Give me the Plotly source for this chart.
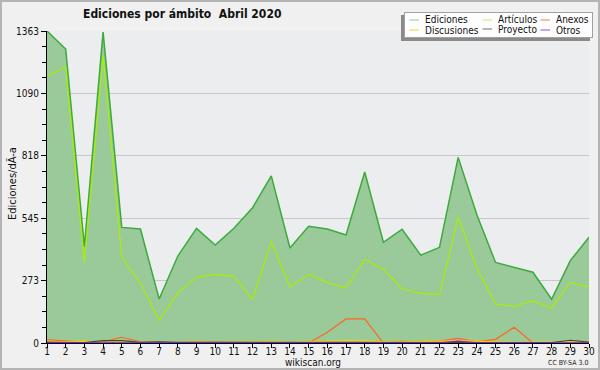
import plotly.graph_objects as go

days = list(range(1, 31))
ediciones = [1363, 1284, 421, 1358, 505, 498, 192, 380, 501, 428, 501, 591, 730, 415, 510,
             498, 472, 747, 440, 497, 384, 418, 811, 560, 352, 332, 309, 191, 360, 462]
articulos = [1166, 1207, 352, 1255, 374, 261, 99, 219, 287, 300, 291, 189, 444, 245, 300,
             265, 240, 366, 322, 236, 217, 211, 549, 326, 170, 160, 185, 152, 265, 245]
anexos = [15, 10, 3, 5, 25, 5, 3, 2, 5, 5, 3, 3, 2, 0, 0,
          47, 105, 105, 0, 7, 5, 8, 20, 5, 16, 69, 0, 0, 2, 3]
discusiones = [8, 5, 8, 3, 5, 3, 2, 3, 5, 3, 5, 5, 6, 3, 5,
               8, 12, 10, 5, 5, 5, 8, 10, 6, 5, 3, 3, 3, 5, 5]
proyecto = [3, 2, 2, 10, 10, 3, 5, 3, 3, 3, 2, 2, 2, 2, 2,
            2, 3, 3, 2, 2, 2, 2, 5, 2, 2, 2, 2, 2, 12, 4]
otros = [3, 1, 1, 1, 1, 1, 1, 1, 1, 1, 1, 1, 1, 1, 1,
         1, 1, 1, 1, 1, 1, 1, 8, 1, 1, 1, 2, 1, 1, 1]
y_ticks = [0, 273, 545, 818, 1090, 1363]

series_names = ["Ediciones", "Artículos", "Anexos", "Discusiones", "Proyecto", "Otros"]
line_colors = ["#3daa3d", "#aaee00", "#ff6622", "#ffcc00", "#444444", "#7a1fd6"]
legend_colors = ["#8fd08f", "#c8f060", "#f08050", "#f8d040", "#707070", "#9050e0"]

W, H = 600, 370
ML, MR, MT, MB = 47, 11, 31, 27
PW, PH = W - ML - MR, H - MT - MB


def px(x):
    return (x - ML) / PW


def py(y):
    return (H - MB - y) / PH


FONT = "DejaVu Sans Condensed, DejaVu Sans"

fig = go.Figure()
fig.add_trace(go.Scatter(x=days, y=ediciones, name=series_names[0], mode="lines",
                         line=dict(color=line_colors[0], width=1.5), fill="tozeroy",
                         fillcolor="#9ac99a"))
for name, vals, col in zip(series_names[1:], [articulos, anexos, discusiones, proyecto, otros],
                           line_colors[1:]):
    fig.add_trace(go.Scatter(x=days, y=vals, name=name, mode="lines",
                             line=dict(color=col, width=1.2)))

shapes = [
    dict(type="rect", xref="paper", yref="paper", x0=px(1), x1=px(W - 1), y0=py(H - 1), y1=py(1),
         line=dict(color="#b4b4b4", width=2), layer="below"),
]
annotations = [
    # legend shadow
    dict(text="", xref="paper", yref="paper", x=px(401), y=py(15), xanchor="left",
         yanchor="top", width=189, height=26, bgcolor="#8a8a8a", borderwidth=0,
         borderpad=0, showarrow=False),
    # legend box
    dict(text="", xref="paper", yref="paper", x=px(404), y=py(12), xanchor="left",
         yanchor="top", width=187, height=24, bgcolor="#fdfdfd", bordercolor="#a0a0a0",
         borderwidth=1, borderpad=0, showarrow=False),
]
legend_pos = [(408, 20), (481, 20), (539, 20), (408, 30), (481, 29), (539, 30)]
for (lx, ly), name, col in zip(legend_pos, series_names, legend_colors):
    # sample line: an arrowless annotation segment
    annotations.append(dict(text="", xref="paper", yref="paper", x=px(lx + 11), y=py(ly),
                            ax=-11, ay=0, axref="pixel", ayref="pixel", showarrow=True,
                            arrowhead=0, arrowwidth=1.2, arrowcolor=col, standoff=0,
                            startstandoff=0))
    annotations.append(dict(text=name, xref="paper", yref="paper", x=px(lx + 15), y=py(ly),
                            xanchor="left", yanchor="middle", showarrow=False,
                            font=dict(size=10, family=FONT, color="#111")))

annotations += [
    dict(text="<b>Ediciones por ámbito  Abril 2020</b>", xref="paper", yref="paper",
         x=px(182), y=py(14), xanchor="center", yanchor="middle", showarrow=False,
         font=dict(size=12, family=FONT, color="#111")),
    dict(text="Ediciones/dÃ-a", xref="paper", yref="paper", x=px(12), y=py(184),
         xanchor="center", yanchor="middle", textangle=-90, showarrow=False,
         font=dict(size=11, family=FONT, color="#111")),
    dict(text="wikiscan.org", xref="paper", yref="paper", x=px(313), y=py(362),
         xanchor="center", yanchor="middle", showarrow=False,
         font=dict(size=10, family=FONT, color="#111")),
    dict(text="CC BY-SA 3.0", xref="paper", yref="paper", x=px(590), y=py(363),
         xanchor="right", yanchor="middle", showarrow=False,
         font=dict(size=7, family=FONT, color="#222")),
]

fig.update_layout(
    width=W, height=H,
    margin=dict(l=ML, r=MR, t=MT, b=MB, autoexpand=False),
    paper_bgcolor="#f0f0f0",
    plot_bgcolor="#ecedef",
    font=dict(family=FONT, size=10, color="#000"),
    showlegend=False,
    xaxis=dict(range=[1, 30], tickmode="array", tickvals=days, ticks="outside",
               ticklen=4, tickcolor="#000", showgrid=False, zeroline=False,
               showline=True, linecolor="#000", linewidth=1, automargin=False,
               ticklabelstandoff=-5,
               tickfont=dict(size=10, family=FONT, color="#111")),
    yaxis=dict(range=[0, 1363], tickmode="array", tickvals=y_ticks,
               ticktext=[str(v) for v in y_ticks], ticks="outside", ticklen=5,
               tickcolor="#000", showgrid=True, gridcolor="#c8c8c8", gridwidth=1,
               zeroline=False, showline=True, linecolor="#000", linewidth=1,
               automargin=False, tickfont=dict(size=10, family=FONT, color="#111"),
               minor=dict(tickmode="linear", tick0=0, dtick=1363 / 20, ticks="outside",
                          ticklen=4, tickcolor="#000", showgrid=False)),
    shapes=shapes,
    annotations=annotations,
)

fig.write_html("out.html", post_script="document.body.style.margin='0';",
               config={"displayModeBar": False})
